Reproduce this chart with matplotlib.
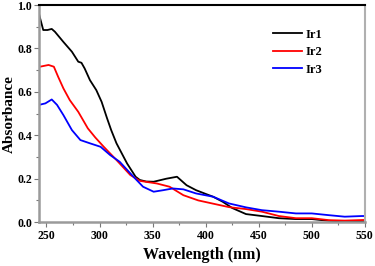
import matplotlib
matplotlib.use("Agg")
import matplotlib.pyplot as plt
from matplotlib.ticker import MultipleLocator

# absorption spectra
wl_ir1 = [243, 244, 247, 251, 255, 258, 266, 274, 280, 283, 286, 291, 297, 302, 307, 311,
          316, 326, 334, 338, 344, 351, 363, 373, 382, 391, 400, 407, 416, 425, 438, 453,
          469, 485, 500, 516, 526, 550]
abs_ir1 = [0.96, 0.94, 0.885, 0.885, 0.89, 0.877, 0.83, 0.785, 0.739, 0.734, 0.708, 0.654,
           0.608, 0.554, 0.48, 0.424, 0.363, 0.27, 0.209, 0.194, 0.187, 0.186, 0.20, 0.209,
           0.17, 0.147, 0.13, 0.117, 0.094, 0.065, 0.037, 0.028, 0.018, 0.014, 0.014, 0.006,
           0.004, 0.003]

wl_ir2 = [243, 248, 252, 257, 261, 266, 272, 280, 289, 296, 304, 316, 329, 338, 354, 366,
          379, 393, 407, 422, 438, 453, 469, 485, 500, 516, 531, 550]
abs_ir2 = [0.715, 0.72, 0.724, 0.716, 0.67, 0.616, 0.562, 0.508, 0.432, 0.39, 0.347, 0.286,
           0.217, 0.19, 0.178, 0.163, 0.124, 0.10, 0.085, 0.069, 0.06, 0.048, 0.028, 0.018,
           0.018, 0.009, 0.007, 0.01]

wl_ir3 = [243, 249, 255, 260, 266, 274, 282, 291, 301, 310, 319, 332, 341, 351, 360, 369,
          379, 391, 407, 422, 438, 453, 469, 485, 500, 516, 531, 547, 550]
abs_ir3 = [0.54, 0.547, 0.565, 0.54, 0.493, 0.424, 0.378, 0.363, 0.347, 0.309, 0.278, 0.209,
           0.163, 0.14, 0.147, 0.155, 0.151, 0.132, 0.117, 0.086, 0.068, 0.055, 0.048, 0.04,
           0.04, 0.032, 0.025, 0.028, 0.028]

series = [("Ir1", wl_ir1, abs_ir1, "black"),
          ("Ir2", wl_ir2, abs_ir2, "red"),
          ("Ir3", wl_ir3, abs_ir3, "blue")]

plt.rcParams["font.family"] = ["Liberation Serif", "DejaVu Serif"]
plt.rcParams["font.weight"] = "bold"

fig = plt.figure(figsize=(3.75, 2.66), dpi=100)
ax = fig.add_axes([0.104, 0.165, 0.869, 0.816])

for name, x, y, c in series:
  ax.plot(x, y, color=c, lw=1.3, label=name)

ax.set_xlim(243, 550)
ax.set_ylim(0, 1.0)
ax.xaxis.set_major_locator(MultipleLocator(50))
ax.xaxis.set_minor_locator(MultipleLocator(25))
ax.yaxis.set_major_locator(MultipleLocator(0.2))
ax.yaxis.set_minor_locator(MultipleLocator(0.1))
ax.set_xticks([250, 300, 350, 400, 450, 500, 550])
ax.set_yticks([0, 0.2, 0.4, 0.6, 0.8, 1.0])
ax.set_yticklabels(["0.0", "0.2", "0.4", "0.6", "0.8", "1.0"])

for s in ["left", "bottom"]:
  ax.spines[s].set_color("#9a9a9a")
  ax.spines[s].set_linewidth(1.8)
ax.spines["top"].set_color("black")
ax.spines["top"].set_linewidth(1.5)
ax.spines["right"].set_color("#b0b0b0")
ax.spines["right"].set_linewidth(1.5)

ax.tick_params(which="both", direction="out", color="#777777", labelsize=8.5)
ax.tick_params(axis="x", pad=2)
ax.tick_params(axis="y", pad=1.5)
ax.tick_params(which="major", length=3.5, width=0.8)
ax.tick_params(which="minor", length=2, width=0.8)
for lab in ax.get_xticklabels() + ax.get_yticklabels():
  lab.set_fontweight("bold")

ax.set_xlabel("Wavelength (nm)", fontsize=11.5, fontweight="bold", labelpad=4)
ax.set_ylabel("Absorbance", fontsize=11, fontweight="bold")
ax.yaxis.set_label_coords(-0.07, 0.5)

leg = ax.legend(loc="upper right", bbox_to_anchor=(0.885, 0.915), frameon=False,
                fontsize=9, handlelength=2.3, handletextpad=0.3, labelspacing=0.45,
                borderaxespad=0)
for t in leg.get_texts():
  t.set_fontweight("bold")

fig.savefig("out.png", dpi=100)
